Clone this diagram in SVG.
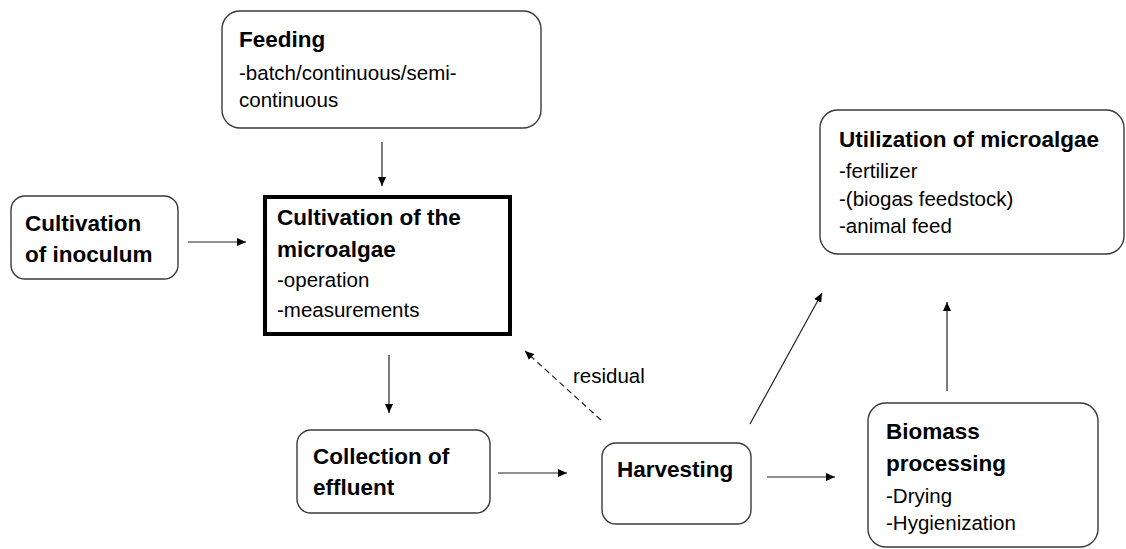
<svg xmlns="http://www.w3.org/2000/svg" width="1126" height="549" viewBox="0 0 1126 549">
<style>
.box{fill:#fff;stroke:#3a3a3a;stroke-width:1.4}
.main{fill:#fff;stroke:#000;stroke-width:4}
.t{font-family:"Liberation Sans",Arial,sans-serif;fill:#000}
.b{font-weight:bold;font-size:22.5px}
.r{font-size:20.5px}
.c{fill:none;stroke:#222;stroke-width:1.2}
.d{stroke-dasharray:6 4}
</style>
<defs>
<marker id="ah" markerWidth="9" markerHeight="8" refX="9" refY="4" orient="auto" markerUnits="userSpaceOnUse">
<path d="M0,0 L9,4 L0,8 z" fill="#000"/>
</marker>
</defs>
<rect width="1126" height="549" fill="#fff"/>
<g id="connectors">
<line class="c" x1="382" y1="142" x2="382" y2="186" marker-end="url(#ah)"/>
<line class="c" x1="188" y1="242" x2="246" y2="242" marker-end="url(#ah)"/>
<line class="c" x1="389" y1="355" x2="389" y2="413" marker-end="url(#ah)"/>
<line class="c" x1="498" y1="473" x2="567" y2="473" marker-end="url(#ah)"/>
<line class="c" x1="767" y1="477" x2="835" y2="477" marker-end="url(#ah)"/>
<line class="c" x1="947" y1="391" x2="947" y2="302" marker-end="url(#ah)"/>
<line class="c" x1="750" y1="424" x2="822" y2="293" marker-end="url(#ah)"/>
<line class="c d" x1="601" y1="420" x2="525" y2="351" marker-end="url(#ah)"/>
<text class="t r" x="573" y="383">residual</text>
</g>
<g id="feeding">
<rect class="box" x="222" y="11" width="319" height="117" rx="18"/>
<text class="t b" x="239" y="47">Feeding</text>
<text class="t r" x="239" y="80">-batch/continuous/semi-</text>
<text class="t r" x="239" y="107">continuous</text>
</g>
<g id="inoculum">
<rect class="box" x="11" y="196" width="167" height="83" rx="14"/>
<text class="t b" x="25" y="231">Cultivation</text>
<text class="t b" x="25" y="262">of inoculum</text>
</g>
<g id="cultivation">
<rect class="main" x="265" y="197" width="245" height="137"/>
<text class="t b" x="277" y="225">Cultivation of the</text>
<text class="t b" x="277" y="257">microalgae</text>
<text class="t r" x="277" y="287">-operation</text>
<text class="t r" x="277" y="317">-measurements</text>
</g>
<g id="collection">
<rect class="box" x="297" y="430" width="193" height="83" rx="14"/>
<text class="t b" x="313" y="464">Collection of</text>
<text class="t b" x="313" y="495">effluent</text>
</g>
<g id="harvesting">
<rect class="box" x="602" y="443" width="149" height="81" rx="14"/>
<text class="t b" x="617" y="477">Harvesting</text>
</g>
<g id="biomass">
<rect class="box" x="868" y="403" width="230" height="144" rx="18"/>
<text class="t b" x="886" y="439">Biomass</text>
<text class="t b" x="886" y="471">processing</text>
<text class="t r" x="886" y="503">-Drying</text>
<text class="t r" x="886" y="530">-Hygienization</text>
</g>
<g id="utilization">
<rect class="box" x="820" y="110" width="304" height="144" rx="18"/>
<text class="t b" x="839" y="147">Utilization of microalgae</text>
<text class="t r" x="839" y="178">-fertilizer</text>
<text class="t r" x="839" y="206">-(biogas feedstock)</text>
<text class="t r" x="839" y="233">-animal feed</text>
</g>
</svg>
